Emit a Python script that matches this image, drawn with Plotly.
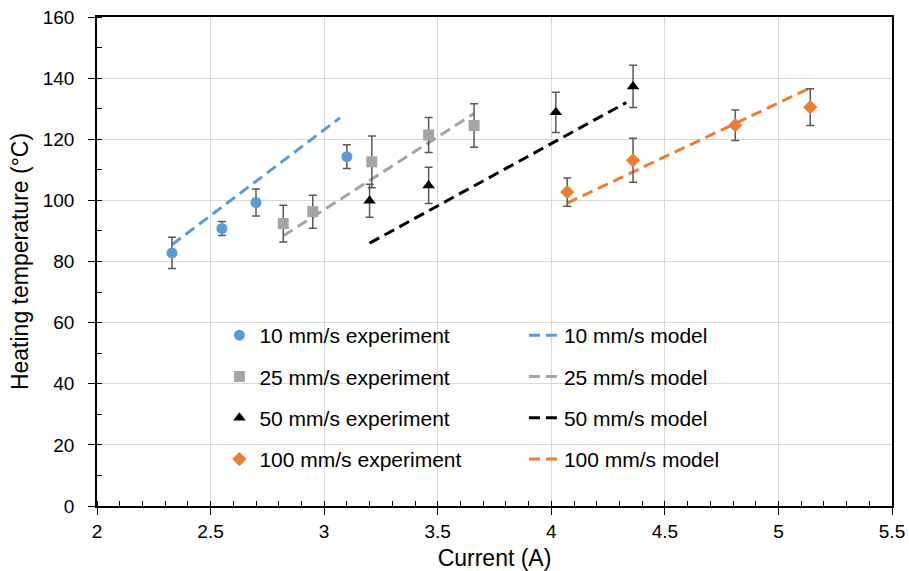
import plotly.graph_objects as go

# Measured heating temperature vs. current, one series per traverse speed
speeds = ["10 mm/s", "25 mm/s", "50 mm/s", "100 mm/s"]
colors = ["#5B9BD5", "#A5A5A5", "#000000", "#ED7D31"]
symbols = ["circle", "square", "triangle-up", "diamond"]

exp_current_10 = [2.33, 2.55, 2.70, 3.10]
exp_temp_10 = [82.8, 90.8, 99.3, 114.3]
exp_err_10 = [5.1, 2.3, 4.4, 3.9]

exp_current_25 = [2.82, 2.95, 3.21, 3.46, 3.66]
exp_temp_25 = [92.4, 96.3, 112.6, 121.4, 124.5]
exp_err_25 = [6.0, 5.4, 8.5, 5.7, 7.1]

exp_current_50 = [3.20, 3.46, 4.02, 4.36]
exp_temp_50 = [99.9, 104.9, 128.8, 137.3]
exp_err_50 = [5.4, 5.9, 6.6, 6.9]

exp_current_100 = [4.07, 4.36, 4.81, 5.14]
exp_temp_100 = [102.7, 113.1, 124.6, 130.5]
exp_err_100 = [4.6, 7.2, 5.0, 6.0]

# Model predictions
model_current_10 = [2.33, 3.07]
model_temp_10 = [85.5, 127.0]

model_current_25 = [2.82, 3.66]
model_temp_25 = [88.4, 128.4]

model_current_50 = [3.20, 4.33]
model_temp_50 = [86.0, 132.0]

model_current_100 = [4.07, 5.14]
model_temp_100 = [99.1, 136.8]

exp_x = [exp_current_10, exp_current_25, exp_current_50, exp_current_100]
exp_y = [exp_temp_10, exp_temp_25, exp_temp_50, exp_temp_100]
exp_e = [exp_err_10, exp_err_25, exp_err_50, exp_err_100]
mod_x = [model_current_10, model_current_25, model_current_50, model_current_100]
mod_y = [model_temp_10, model_temp_25, model_temp_50, model_temp_100]

FONT = "Arial, Liberation Sans, sans-serif"

fig = go.Figure()

for i, sp in enumerate(speeds):
    fig.add_trace(go.Scatter(
        x=mod_x[i], y=mod_y[i], mode="lines",
        name=f"{sp} model", legend="legend2", legendgroup=f"m{i}",
        line=dict(color=colors[i], width=3, dash="11px,6px"),
    ))

for i, sp in enumerate(speeds):
    fig.add_trace(go.Scatter(
        x=exp_x[i], y=exp_y[i], mode="markers",
        name=f"{sp} experiment", legend="legend", legendgroup=f"e{i}",
        marker=dict(color=colors[i], symbol=symbols[i], size=11,
                    line=dict(width=0)),
        error_y=dict(type="data", array=exp_e[i], visible=True,
                     color="#595959", thickness=1.5, width=4),
    ))

axis_common = dict(
    automargin=False,
    showline=True, linecolor="black", linewidth=1.5, mirror=True,
    showgrid=True, gridcolor="#D9D9D9", gridwidth=1.3,
    zeroline=False,
    ticks="outside", ticklen=7, tickwidth=1.3, tickcolor="black",
    tickfont=dict(family=FONT, size=19, color="black"),
)

fig.update_layout(
    width=909, height=571,
    margin=dict(l=97, r=17, t=17, b=65),
    paper_bgcolor="white", plot_bgcolor="white",
    font=dict(family=FONT, color="black"),
    xaxis=dict(
        range=[2, 5.5], tick0=2, dtick=0.5,
        minor=dict(dtick=0.1, ticks="inside", ticklen=5, tickwidth=1.3,
                   tickcolor="black", showgrid=False),
        title=dict(text="Current (A)", font=dict(family=FONT, size=23, color="black"),
                   standoff=9),
        ticklabelstandoff=0,
        **axis_common,
    ),
    yaxis=dict(
        range=[0, 160], tick0=0, dtick=20,
        minor=dict(dtick=10, ticks="inside", ticklen=5, tickwidth=1.3,
                   tickcolor="black", showgrid=False),
        title=dict(text="Heating temperature (°C)",
                   font=dict(family=FONT, size=23, color="black"), standoff=8),
        ticklabelstandoff=10,
        **axis_common,
    ),
    # inner halves of the major ticks
    xaxis2=dict(overlaying="x", anchor="y", side="bottom", matches="x",
                range=[2, 5.5], tick0=2, dtick=0.5, ticks="inside", ticklen=5,
                tickwidth=1.3, tickcolor="black", showticklabels=False,
                showgrid=False, showline=False, zeroline=False, automargin=False),
    yaxis2=dict(overlaying="y", anchor="x", side="left",
                range=[0, 160], tick0=0, dtick=20, ticks="inside", ticklen=5,
                tickwidth=1.3, tickcolor="black", showticklabels=False,
                showgrid=False, showline=False, zeroline=False, automargin=False),
    legend=dict(
        x=0.154, y=0.3906, xanchor="left", yanchor="top",
        bgcolor="rgba(0,0,0,0)", borderwidth=0,
        traceorder="grouped", tracegroupgap=11,
        font=dict(family=FONT, size=21, color="black"),
    ),
    legend2=dict(
        x=0.537, y=0.3906, xanchor="left", yanchor="top",
        bgcolor="rgba(0,0,0,0)", borderwidth=0,
        traceorder="grouped", tracegroupgap=11,
        font=dict(family=FONT, size=21, color="black"),
    ),
    shapes=[dict(
        type="rect", xref="paper", yref="paper",
        x0=0.117, x1=0.878, y0=0.049, y1=0.3845,
        fillcolor="white", line=dict(width=0), layer="between",
    )],
    showlegend=True,
)

fig.write_html("out.html")
